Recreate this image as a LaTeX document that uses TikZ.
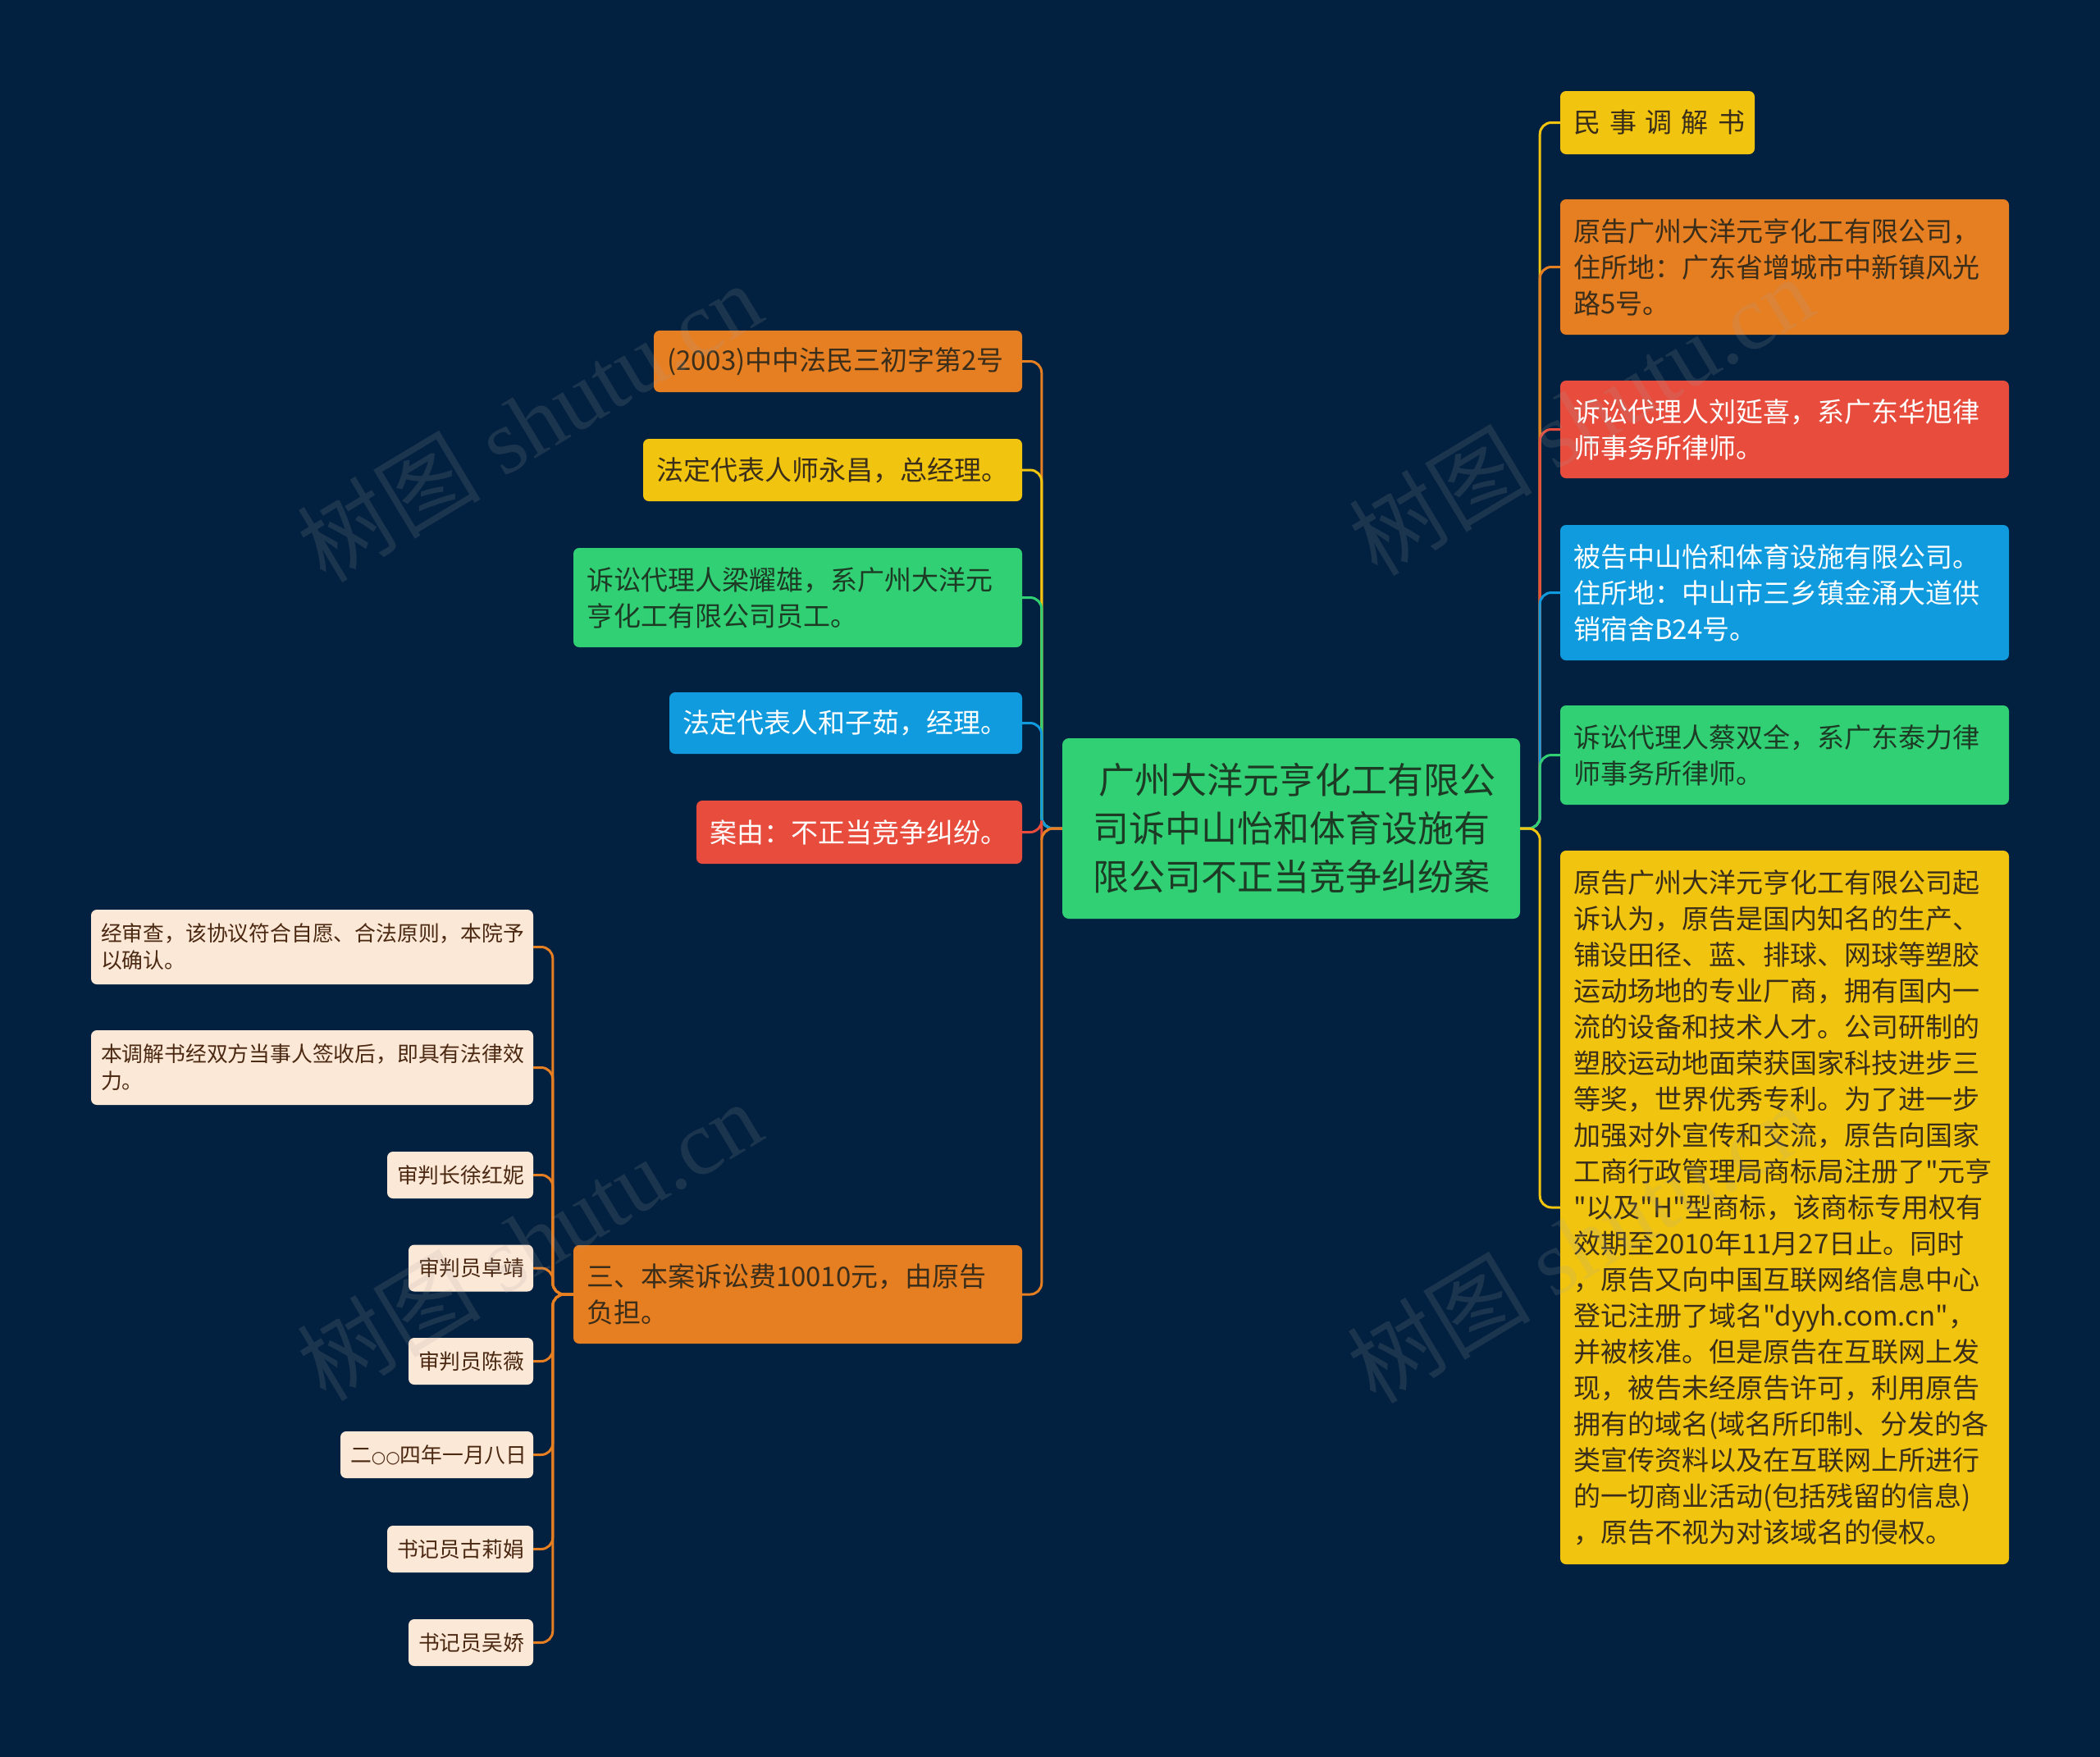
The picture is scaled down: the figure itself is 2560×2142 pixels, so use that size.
\documentclass[tikz,border=0pt]{standalone}
\usepackage{fontspec}
\setmainfont{Liberation Serif}
\newfontfamily\cjk{Noto Sans CJK SC}
\newfontfamily\dejavu{DejaVu Sans}
\definecolor{bg}{HTML}{02203F}
\definecolor{cgreen}{HTML}{31D074}
\definecolor{corange}{HTML}{E67E22}
\definecolor{cyellow}{HTML}{F1C40F}
\definecolor{cred}{HTML}{E74C3C}
\definecolor{cblue}{HTML}{0F9BDD}
\definecolor{cleaf}{HTML}{FCE8D6}
\definecolor{tdark}{HTML}{3A2E1A}
\definecolor{tgreen}{HTML}{1D3A25}
\definecolor{tleaf}{HTML}{4A2812}
\newcommand\mycirc{{\dejavu\fontsize{20}{20}\selectfont ○}}
\begin{document}
\begin{tikzpicture}[x=1pt,y=-1pt,
  box/.style={rectangle, rounded corners=7pt, inner xsep=16pt, inner ysep=0pt, align=left,
    font=\cjk\fontsize{33}{44}\selectfont},
  cbox/.style={rectangle, rounded corners=8pt, inner xsep=16pt, inner ysep=0pt, align=center,
    font=\cjk\fontsize{44}{59}\selectfont, fill=cgreen, text=tgreen},
  leaf/.style={rectangle, rounded corners=7pt, fill=cleaf, text=tleaf, inner xsep=12pt, inner ysep=0pt,
    align=left, font=\cjk\fontsize{25.8}{33}\selectfont},
  link/.style={line width=3pt, rounded corners=14pt},
  wm/.style={rotate=31, opacity=0.16, text=gray!70, font=\fontsize{112}{112}\selectfont},
]
\fill[bg] (0,0) rectangle (2560,2142);
\useasboundingbox (0,0) rectangle (2560,2142);

% center
\node[cbox, minimum width=558pt, minimum height=220pt, text width=526pt] (c) at (1574,1010)
  {\ 广州大洋元亨化工有限公\\司诉中山怡和体育设施有\\限公司不正当竞争纠纷案};

% right side
\node[box, fill=cyellow, text=tdark, minimum width=237pt, minimum height=77pt, text width=205pt] (r0) at (2020.5,149.5)
  {民~事~调~解~书};
\node[box, fill=corange, text=tdark, minimum width=547pt, minimum height=165pt, text width=515pt] (r1) at (2175.5,325.5)
  {原告广州大洋元亨化工有限公司，\\住所地：广东省增城市中新镇风光\\路5号。};
\node[box, fill=cred, text=white, minimum width=547pt, minimum height=119pt, text width=515pt] (r2) at (2175.5,523.5)
  {诉讼代理人刘延喜，系广东华旭律\\师事务所律师。};
\node[box, fill=cblue, text=white, minimum width=547pt, minimum height=165pt, text width=515pt] (r3) at (2175.5,722.5)
  {被告中山怡和体育设施有限公司。\\住所地：中山市三乡镇金涌大道供\\销宿舍B24号。};
\node[box, fill=cgreen, text=tgreen, minimum width=547pt, minimum height=121pt, text width=515pt] (r4) at (2175.5,920.5)
  {诉讼代理人蔡双全，系广东泰力律\\师事务所律师。};
\node[box, fill=cyellow, text=tdark, minimum width=547pt, minimum height=870pt, text width=515pt] (r5) at (2175.5,1472)
  {原告广州大洋元亨化工有限公司起\\诉认为，原告是国内知名的生产、\\铺设田径、蓝、排球、网球等塑胶\\运动场地的专业厂商，拥有国内一\\流的设备和技术人才。公司研制的\\塑胶运动地面荣获国家科技进步三\\等奖，世界优秀专利。为了进一步\\加强对外宣传和交流，原告向国家\\工商行政管理局商标局注册了"元亨\\"以及"H"型商标，该商标专用权有\\效期至2010年11月27日止。同时\\，原告又向中国互联网络信息中心\\登记注册了域名"dyyh.com.cn"，\\并被核准。但是原告在互联网上发\\现，被告未经原告许可，利用原告\\拥有的域名(域名所印制、分发的各\\类宣传资料以及在互联网上所进行\\的一切商业活动(包括残留的信息)\\，原告不视为对该域名的侵权。};

% left side
\node[box, fill=corange, text=tdark, minimum width=449pt, minimum height=75pt, text width=417pt] (l0) at (1021.5,440.5)
  {(2003)中中法民三初字第2号};
\node[box, fill=cyellow, text=tdark, minimum width=462pt, minimum height=76pt, text width=430pt] (l1) at (1015,573)
  {法定代表人师永昌，总经理。};
\node[box, fill=cgreen, text=tgreen, minimum width=547pt, minimum height=121pt, text width=515pt] (l2) at (972.5,728.5)
  {诉讼代理人梁耀雄，系广州大洋元\\亨化工有限公司员工。};
\node[box, fill=cblue, text=white, minimum width=430pt, minimum height=75pt, text width=398pt] (l3) at (1031,881.5)
  {法定代表人和子茹，经理。};
\node[box, fill=cred, text=white, minimum width=397pt, minimum height=77pt, text width=365pt] (l4) at (1047.5,1014.5)
  {案由：不正当竞争纠纷。};
\node[box, fill=corange, text=tdark, minimum width=547pt, minimum height=120pt, text width=515pt] (l5) at (972.5,1578)
  {三、本案诉讼费10010元，由原告\\负担。};

% leaves
\node[leaf, minimum width=539pt, minimum height=91pt, text width=515pt] (f0) at (380.5,1154.5)
  {经审查，该协议符合自愿、合法原则，本院予\\以确认。};
\node[leaf, minimum width=539pt, minimum height=91pt, text width=515pt] (f1) at (380.5,1301.5)
  {本调解书经双方当事人签收后，即具有法律效\\力。};
\node[leaf, minimum width=178pt, minimum height=57pt, text width=154pt] (f2) at (561,1432.5) {审判长徐红妮};
\node[leaf, minimum width=152pt, minimum height=57pt, text width=128pt] (f3) at (574,1546) {审判员卓靖};
\node[leaf, minimum width=152pt, minimum height=57pt, text width=128pt] (f4) at (574,1659.5) {审判员陈薇};
\node[leaf, minimum width=235pt, minimum height=57pt, text width=211pt] (f5) at (532.5,1773.5) {二\mycirc\mycirc 四年一月八日};
\node[leaf, minimum width=178pt, minimum height=57pt, text width=154pt] (f6) at (561,1888.5) {书记员古莉娟};
\node[leaf, minimum width=152pt, minimum height=57pt, text width=128pt] (f7) at (574,2002.5) {书记员吴娇};

% connectors right
\draw[link, cyellow] (c.east) -- ++(24,0) |- (r0.west);
\draw[link, corange] (c.east) -- ++(24,0) |- (r1.west);
\draw[link, cred] (c.east) -- ++(24,0) |- (r2.west);
\draw[link, cblue] (c.east) -- ++(24,0) |- (r3.west);
\draw[link, cgreen] (c.east) -- ++(24,0) |- (r4.west);
\draw[link, cyellow] (c.east) -- ++(24,0) |- (r5.west);

% connectors left
\draw[link, corange] (c.west) -- ++(-25,0) |- (l0.east);
\draw[link, cyellow] (c.west) -- ++(-25,0) |- (l1.east);
\draw[link, cgreen] (c.west) -- ++(-25,0) |- (l2.east);
\draw[link, cblue] (c.west) -- ++(-25,0) |- (l3.east);
\draw[link, cred] (c.west) -- ++(-25,0) |- (l4.east);
\draw[link, corange] (c.west) -- ++(-25,0) |- (l5.east);

% connectors leaves
\foreach \f in {f0,f1,f2,f3,f4,f5,f6,f7}
  \draw[link, corange] (l5.west) -- ++(-25,0) |- (\f.east);

% watermarks
\node[wm] (w1) at (645,514) {{\cjk 树图} shutu.cn};
\node[wm] (w2) at (1927,506) {{\cjk 树图} shutu.cn};
\node[wm] (w3) at (645,1512) {{\cjk 树图} shutu.cn};
\node[wm] (w4) at (1925,1515) {{\cjk 树图} shutu.cn};
\end{tikzpicture}
\end{document}
